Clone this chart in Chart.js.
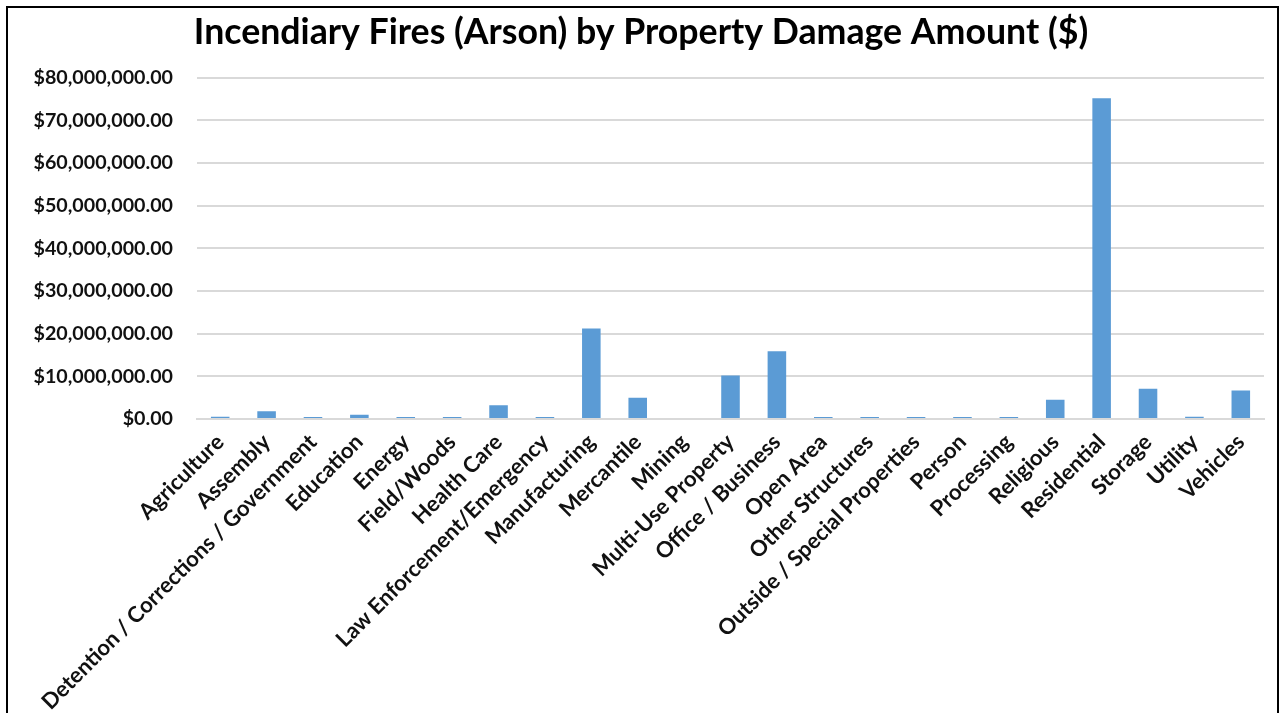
<!DOCTYPE html>
<html>
<head>
<meta charset="utf-8">
<script src="https://cdn.jsdelivr.net/npm/chart.js@4.4.1/dist/chart.umd.min.js"></script>
<style>
  html, body { margin: 0; padding: 0; background: #fff; overflow: hidden; }
  #wrap { position: relative; width: 1280px; height: 713px; }
  #frame { position: absolute; left: 6px; top: 6px; width: 1269px; height: 800px; border: 2px solid #000; pointer-events: none; }
  canvas { position: absolute; left: 0; top: 0; }
</style>
</head>
<body>
<div id="wrap">
  <canvas id="arsonChart" width="1280" height="713"></canvas>
  <div id="frame"></div>
</div>
<script>
// property types (x axis)
const categories = [
  'Agriculture', 'Assembly', 'Detention / Corrections / Government', 'Education',
  'Energy', 'Field/Woods', 'Health Care', 'Law Enforcement/Emergency',
  'Manufacturing', 'Mercantile', 'Mining', 'Multi-Use Property',
  'Office / Business', 'Open Area', 'Other Structures', 'Outside / Special Properties',
  'Person', 'Processing', 'Religious', 'Residential', 'Storage', 'Utility', 'Vehicles'
];

// damage amount in dollars
const damage = [
  500000, 1800000, 450000, 1000000,
  450000, 450000, 3200000, 450000,
  21200000, 5000000, 0, 10200000,
  15900000, 450000, 450000, 450000,
  450000, 450000, 4500000, 75200000, 7100000, 500000, 6700000
];

// y axis ticks
const yTicks = [0, 10000000, 20000000, 30000000, 40000000, 50000000, 60000000, 70000000, 80000000];

const money = v => '$' + v.toLocaleString('en-US', { minimumFractionDigits: 2, maximumFractionDigits: 2 });

const ctx = document.getElementById('arsonChart').getContext('2d');
const arsonChart = new Chart(ctx, {
  type: 'bar',
  data: {
    labels: categories,
    datasets: [{
      label: 'Property Damage',
      data: damage,
      backgroundColor: '#5B9BD5',
      borderWidth: 0,
      categoryPercentage: 1,
      barPercentage: 0.4
    }]
  },
  options: {
    responsive: false,
    animation: false,
    layout: { padding: { left: 18, right: 16, top: 0, bottom: 0 } },
    plugins: {
      legend: { display: false },
      tooltip: { enabled: false },
      title: {
        display: true,
        text: 'Incendiary Fires (Arson) by Property Damage Amount ($)',
        color: '#000',
        font: { family: 'Lato', size: 35.7, weight: 'bold' },
        padding: { top: 11, bottom: 24 }
      }
    },
    scales: {
      x: {
        grid: { display: false },
        border: { display: true, color: '#d9d9d9', width: 2 },
        ticks: {
          color: '#111',
          font: { family: 'Lato', size: 22, weight: 'bold' },
          minRotation: 45,
          maxRotation: 45,
          autoSkip: false,
          padding: 2
        },
        afterFit: scale => { scale.height = 713 - 419; }
      },
      y: {
        min: 0,
        max: 80000000,
        afterBuildTicks: scale => { scale.ticks = yTicks.map(v => ({ value: v })); },
        afterFit: scale => { scale.width = 197 - 18; },
        grid: { color: '#d9d9d9', lineWidth: 2, drawTicks: false },
        border: { display: false },
        ticks: {
          color: '#111',
          font: { family: 'Lato', size: 19.7, weight: 'bold' },
          padding: 24,
          callback: v => money(v)
        }
      }
    }
  }
});
</script>
</body>
</html>
